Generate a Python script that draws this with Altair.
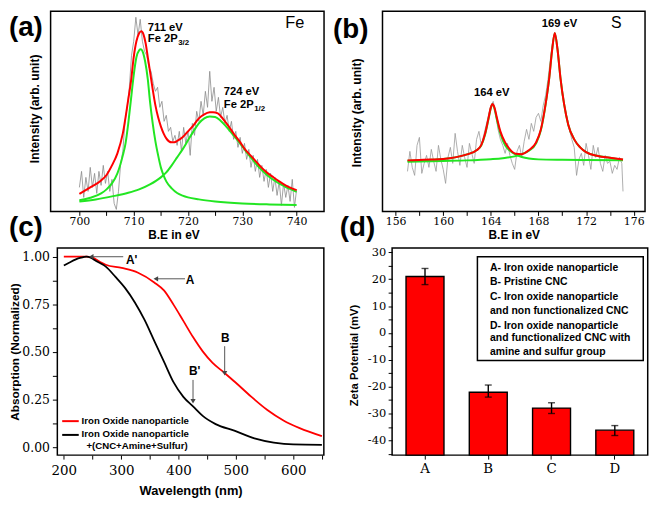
import altair as alt
import pandas as pd

# ---------------- (a) Fe 2p XPS ----------------
fe_raw_ev = [700.0, 700.4, 700.8, 701.2, 701.6, 702.0, 702.4, 702.8, 703.2, 703.6,
             704.0, 704.4, 704.8, 705.2, 705.6, 706.0, 706.4, 706.8, 707.2, 707.6,
             708.0, 708.4, 708.8, 709.2, 709.6, 710.0, 710.4, 710.8, 711.2, 711.6,
             712.0, 712.4, 712.8, 713.2, 713.6, 714.0, 714.4, 714.8, 715.2, 715.6,
             716.0, 716.4, 716.8, 717.2, 717.6, 718.0, 718.4, 718.8, 719.2, 719.6,
             720.0, 720.4, 720.8, 721.2, 721.6, 722.0, 722.4, 722.8, 723.2, 723.6,
             724.0, 724.4, 724.8, 725.2, 725.6, 726.0, 726.4, 726.8, 727.2, 727.6,
             728.0, 728.4, 728.8, 729.2, 729.6, 730.0, 730.4, 730.8, 731.2, 731.6,
             732.0, 732.4, 732.8, 733.2, 733.6, 734.0, 734.4, 734.8, 735.2, 735.6,
             736.0, 736.4, 736.8, 737.2, 737.6, 738.0, 738.4, 738.8, 739.2, 739.6,
             740.0]
fe_raw_int = [12, 20, 7, 17, 10, 22, 12, 19, 9, 20,
              13, 23, 14, 20, 10, 16, 4, 1, 10, 24,
              30, 45, 52, 62, 78, 85, 97, 88, 96, 85,
              80, 78, 72, 70, 64, 60, 62, 52, 55, 45,
              48, 40, 42, 35, 38, 33, 40, 30, 42, 34,
              40, 28, 44, 38, 50, 45, 55, 48, 60, 52,
              70, 55, 62, 50, 57, 47, 52, 44, 48, 40,
              45, 36, 40, 32, 37, 29, 34, 26, 31, 22,
              28, 20, 26, 17, 23, 15, 21, 12, 19, 10,
              17, 8, 15, 3, 14, 7, 13, 5, 16, 2,
              11]
fe_fit_ev = [700, 702, 704, 705, 706, 707, 708, 709, 709.5, 710,
             710.5, 711, 711.4, 711.8, 712.2, 712.6, 713, 713.5, 714, 714.5,
             715, 715.5, 716, 716.5, 717, 717.5, 718, 719, 720, 721,
             722, 723, 724, 724.6, 725.5, 726.5, 727.5, 728.5, 729.5, 730.5,
             731.5, 732.5, 733.5, 734.5, 735.5, 736.5, 737.5, 738.5, 740]
fe_fit_int = [8.8, 12.0, 15.5, 18.2, 23, 29, 39, 56, 65, 77,
              85, 89, 90, 88.5, 84, 77, 70, 61, 53, 47,
              42.5, 39, 36.5, 35, 34.5, 34.6, 35.2, 37, 40, 43,
              46.5, 48.5, 49.5, 49.6, 49, 46, 42.5, 38.5, 35, 31,
              28, 25, 22, 19.5, 17.5, 15.5, 13.8, 12.3, 10.6]
fe_g1_ev = [700, 702, 704, 705, 706, 707, 708, 708.5, 709, 709.5,
            710, 710.5, 711, 711.3, 711.7, 712.1, 712.6, 713, 713.5, 714,
            714.5, 715, 715.5, 716, 717, 718, 719, 720, 722, 725,
            730, 735, 740]
fe_g1_int = [5.6, 6.8, 9, 11, 14, 19, 28, 34, 44, 56,
             68, 77, 80.5, 81, 79.5, 75, 66, 55, 44, 35,
             28, 22, 18, 15, 11.5, 9.2, 7.9, 7.0, 6.0, 5,
             4, 3.5, 3.2]
fe_g2_ev = [700, 703, 706, 709, 711, 713, 715, 716, 717, 718,
            719, 720, 721, 722, 723, 724, 725, 726, 727, 728,
            729, 730, 731, 732, 733, 734, 735, 736, 737, 738,
            739, 740]
fe_g2_int = [5, 6, 7.5, 9.3, 11, 13.5, 17, 19.5, 23, 27,
             31, 35.5, 40, 44, 46.5, 47.4, 47.2, 45.3, 42.5, 39.3,
             36, 32.5, 28.8, 25.5, 22.3, 19.6, 17.2, 15.3, 13.6, 12.2,
             11, 9.8]

# ---------------- (b) S 2p XPS ----------------
s_raw_ev = [157.0, 157.2, 157.4, 157.6, 157.8, 158.0, 158.2, 158.4, 158.6, 158.8,
            159.0, 159.2, 159.4, 159.6, 159.8, 160.0, 160.2, 160.4, 160.6, 160.8,
            161.0, 161.2, 161.4, 161.6, 161.8, 162.0, 162.2, 162.4, 162.6, 162.8,
            163.0, 163.2, 163.4, 163.6, 163.8, 164.0, 164.2, 164.4, 164.6, 164.8,
            165.0, 165.2, 165.4, 165.6, 165.8, 166.0, 166.2, 166.4, 166.6, 166.8,
            167.0, 167.2, 167.4, 167.6, 167.8, 168.0, 168.2, 168.4, 168.6, 168.8,
            169.0, 169.2, 169.4, 169.6, 169.8, 170.0, 170.2, 170.4, 170.6, 170.8,
            171.0, 171.2, 171.4, 171.6, 171.8, 172.0, 172.2, 172.4, 172.6, 172.8,
            173.0, 173.2, 173.4, 173.6, 173.8, 174.0, 174.2, 174.4, 174.6, 174.8,
            175.0, 175.1]
s_raw_int = [20, 30, 22, 18, 33, 37, 19, 24, 28, 22,
             31, 25, 20, 33, 26, 21, 14, 27, 32, 24,
             39, 30, 23, 33, 27, 22, 34, 29, 24, 36,
             40, 33, 38, 43, 48, 53, 55, 49, 41, 36,
             33, 29, 34, 28, 24, 21, 30, 33, 27, 35,
             41, 36, 44, 40, 47, 49, 45, 53, 58, 66,
             76, 85, 89, 82, 70, 58, 52, 47, 41, 36,
             32, 18, 26, 29, 23, 34, 28, 21, 33, 27,
             32, 24, 20, 28, 24, 25, 19, 23, 21, 27,
             24, 10]
s_fit_ev = [157, 158, 159, 160, 161, 162, 162.8, 163.2, 163.5, 163.8,
            164.0, 164.13, 164.3, 164.5, 164.8, 165.2, 165.6, 166.1, 166.6, 167.2,
            167.8, 168.2, 168.6, 168.9, 169.15, 169.37, 169.6, 169.85, 170.15, 170.5,
            171, 171.5, 172, 173, 174, 175.1]
s_fit_int = [25.5, 25.7, 25.9, 26.2, 27, 28.5, 30.5, 33.2, 38.5, 46.5,
             52, 53.7, 52, 47, 40, 34.5, 31, 28.8, 28.6, 30.6,
             34.5, 40.9, 53.7, 66.5, 80.9, 89.2, 80.9, 66.5, 53.7, 43.3,
             36, 32, 29.6, 27.7, 26.8, 25.9]
s_g1_ev = [157, 159, 160, 161, 162, 162.8, 163.2, 163.5, 163.8, 164.0,
           164.13, 164.3, 164.5, 164.8, 165.2, 165.6, 166.1, 166.6, 167.2, 168,
           170, 172, 175.1]
s_g1_int = [25.3, 25.8, 26.2, 27, 28.5, 30.5, 33, 38, 46, 51.5,
            53.5, 51.5, 46, 39, 33, 30.3, 28.4, 27.2, 26.4, 26.0,
            25.8, 25.7, 25.6]
s_g2_ev = [157, 160, 162, 164, 165, 166, 166.6, 167.2, 167.8, 168.2,
           168.6, 168.9, 169.15, 169.37, 169.6, 169.85, 170.15, 170.5, 171, 171.5,
           172, 173, 174, 175.1]
s_g2_int = [24.8, 25.2, 25.5, 26.1, 26.6, 27.5, 28.6, 30.3, 34, 40.5,
            53.5, 66.5, 80.9, 89, 80.9, 66.5, 53.7, 43.3, 36, 32,
            29.6, 27.7, 26.8, 25.8]

# ---------------- (c) UV-Vis ----------------
uv_red_nm = [200, 220, 240, 248, 262, 273, 301, 329.5, 357.7, 374.6, 391.5,
             408.4, 425.3, 442.2, 459, 478.9, 498.5, 526.7, 554.9, 583, 611.2, 650]
uv_red_abs = [1.0, 1.0, 1.0, 0.998, 0.975, 0.958, 0.941, 0.916, 0.865, 0.823, 0.747,
              0.663, 0.578, 0.503, 0.444, 0.393, 0.342, 0.265, 0.195, 0.14, 0.1, 0.058]
uv_blk_nm = [200, 210, 220, 230, 239.4, 248, 256.3, 273.2, 290.1, 307, 323.9, 340.8,
             357.7, 374.6, 391.5, 408.4, 425.3, 442.2, 464.7, 498.5, 532.3, 566.1, 600, 650]
uv_blk_abs = [0.954, 0.97, 0.985, 0.995, 1.0, 0.993, 0.978, 0.948, 0.894, 0.835, 0.76, 0.668,
              0.558, 0.449, 0.34, 0.264, 0.214, 0.164, 0.121, 0.085, 0.046, 0.024, 0.014, 0.012]
arrow_label = ["A'", "A", "B", "B'"]
arrow_from_nm = [303.6, 411.3, 480.5, 425.3]
arrow_to_nm = [247.8, 360.5, 480.5, 425.3]
arrow_from_abs = [1.0, 0.884, 0.53, 0.353]
arrow_to_abs = [1.0, 0.884, 0.388, 0.241]
arrow_head = ["triangle-left", "triangle-left", "triangle-down", "triangle-down"]
arrow_text_nm = [318.3, 420.0, 481.7, 428.1]
arrow_text_abs = [0.983, 0.877, 0.574, 0.402]

# ---------------- (d) Zeta potential ----------------
zeta_cat = ["A", "B", "C", "D"]
zeta_val = [21.0, -22.1, -28.0, -36.2]
zeta_lo = [18.0, -23.9, -30.0, -38.2]
zeta_hi = [24.0, -19.4, -26.0, -34.5]
zeta_legend = ["A- Iron oxide nanoparticle", "B- Pristine CNC",
               "C- Iron oxide nanoparticle", "and non functionalized CNC",
               "D- Iron oxide nanoparticle", "and functionalized CNC with",
               "amine and sulfur group"]
zeta_legend_y = [20.4, 34.7, 49.3, 63.2, 78.4, 91.3, 104.9]

FT = "Liberation Sans"
FN = "DejaVu Serif"
RED = "#ff0000"
GREEN = "#22e622"
one = pd.DataFrame({"k": [0]})


def lbl(text, x, y, size, weight="bold", align="left", baseline="middle",
        color="black", font=FT):
    return alt.Chart(one).mark_text(
        text=text, font=font, fontSize=size, fontWeight=weight, align=align,
        baseline=baseline, color=color
    ).encode(x=alt.value(x), y=alt.value(y))


def enc(ch, xs, ys, ax, ay):
    return ch.encode(x=alt.X("x:Q", scale=xs, axis=ax),
                     y=alt.Y("y:Q", scale=ys, axis=ay))


def df(xs, ys):
    return pd.DataFrame({"x": xs, "y": ys})


# ================= panel (a) =================
WA, HA = 276, 202
xa = alt.Scale(domain=[694.7, 745.05], nice=False, zero=False)
ya = alt.Scale(domain=[0, 100], nice=False, zero=False)
axa_x = alt.Axis(values=[700, 705, 710, 715, 720, 725, 730, 735, 740],
                 labelExpr="datum.value % 10 == 0 ? datum.label : ''",
                 labelFont=FN, labelFontSize=11, tickSize=4, labelPadding=0.5,
                 title="B.E in eV", titleFont=FT, titleFontSize=12, titleFontWeight="bold",
                 titleX=124, titleY=18.0, titleBaseline="top", grid=False, domain=False)
axa_y = alt.Axis(title="Intensity (arb. unit)", ticks=False, labels=False, domain=False,
                 grid=False, titleFont=FT, titleFontSize=12.2, titleFontWeight="bold",
                 titleX=-16, titleY=98, titleBaseline="middle")

fe_sub = 11.3
pa = alt.layer(
    enc(alt.Chart(df(fe_raw_ev, fe_raw_int)).mark_line(color="#8a8a8a", strokeWidth=0.8), xa, ya, axa_x, axa_y),
    enc(alt.Chart(df(fe_g1_ev, fe_g1_int)).mark_line(color=GREEN, strokeWidth=2, interpolate="monotone"), xa, ya, axa_x, axa_y),
    enc(alt.Chart(df(fe_g2_ev, fe_g2_int)).mark_line(color=GREEN, strokeWidth=2, interpolate="monotone"), xa, ya, axa_x, axa_y),
    enc(alt.Chart(df(fe_fit_ev, fe_fit_int)).mark_line(color=RED, strokeWidth=2, interpolate="monotone"), xa, ya, axa_x, axa_y),
    enc(alt.Chart(pd.DataFrame({"x": [712.6, 712.6, 726.6, 726.6], "y": [91.8, 86.0, 59.8, 53.0],
                                "t": ["711 eV", "Fe 2P", "724 eV", "Fe 2P"]}))
        .mark_text(font=FT, fontSize=fe_sub, fontWeight="bold", align="left", baseline="middle"),
        xa, ya, axa_x, axa_y).encode(text="t:N"),
    enc(alt.Chart(pd.DataFrame({"x": [712.6, 726.6], "y": [86.0, 53.0], "t": ["3/2", "1/2"]}))
        .mark_text(font=FT, fontSize=8, fontWeight="bold", align="left", baseline="middle",
                   dx=2.668 * fe_sub + 0.5, dy=4),
        xa, ya, axa_x, axa_y).encode(text="t:N"),
    enc(alt.Chart(pd.DataFrame({"x": [737.9], "y": [94.2], "t": ["Fe"]}))
        .mark_text(font=FT, fontSize=16.5, align="left", baseline="middle"),
        xa, ya, axa_x, axa_y).encode(text="t:N"),
    lbl("(a)", -42.1, 16.5, 28),
    lbl("(c)", -42.1, 218.7, 28),
).properties(width=WA, height=HA)

# ================= panel (b) =================
WB, HB = 265, 202
xb = alt.Scale(domain=[154.9, 176.95], nice=False, zero=False)
yb = alt.Scale(domain=[0, 100], nice=False, zero=False)
axb_x = alt.Axis(values=[156, 158, 160, 162, 164, 166, 168, 170, 172, 174, 176],
                 labelExpr="datum.value % 4 == 0 ? datum.label : ''",
                 labelFont=FN, labelFontSize=11, tickSize=4, labelPadding=0.5,
                 title="B.E in eV", titleFont=FT, titleFontSize=12, titleFontWeight="bold",
                 titleY=18.0, titleBaseline="top", grid=False, domain=False)
axb_y = alt.Axis(title="Intensity (arb. unit)", ticks=False, labels=False, domain=False,
                 grid=False, titleFont=FT, titleFontSize=12.2, titleFontWeight="bold",
                 titleX=-26.7, titleY=102, titleBaseline="middle")

pb = alt.layer(
    enc(alt.Chart(df(s_raw_ev, s_raw_int)).mark_line(color="#9a9a9a", strokeWidth=0.8), xb, yb, axb_x, axb_y),
    enc(alt.Chart(df(s_g1_ev, s_g1_int)).mark_line(color=GREEN, strokeWidth=2, interpolate="monotone"), xb, yb, axb_x, axb_y),
    enc(alt.Chart(df(s_g2_ev, s_g2_int)).mark_line(color=GREEN, strokeWidth=2, interpolate="monotone"), xb, yb, axb_x, axb_y),
    enc(alt.Chart(df(s_fit_ev, s_fit_int)).mark_line(color=RED, strokeWidth=2, interpolate="monotone"), xb, yb, axb_x, axb_y),
    enc(alt.Chart(pd.DataFrame({"x": [168.28, 162.59], "y": [93.8, 59.0], "t": ["169 eV", "164 eV"]}))
        .mark_text(font=FT, fontSize=11.3, fontWeight="bold", align="left", baseline="middle"),
        xb, yb, axb_x, axb_y).encode(text="t:N"),
    enc(alt.Chart(pd.DataFrame({"x": [174.1], "y": [94.2], "t": ["S"]}))
        .mark_text(font=FT, fontSize=16, align="left", baseline="middle"),
        xb, yb, axb_x, axb_y).encode(text="t:N"),
    lbl("(b)", -49.9, 18.5, 28),
    lbl("(d)", -43.1, 218.7, 28),
).properties(width=WB, height=HB)

# ================= panel (c) =================
# the visible frame of (c) starts C_OFF px right of the column origin shared with (a)
C_OFF = 6.8
WC, HC = 269, 209
WCV = WC + C_OFF
xc = alt.Scale(domain=[188.7, 653.4], range=[C_OFF, WCV], nice=False, zero=False)
yc = alt.Scale(domain=[-0.042, 1.0455], nice=False, zero=False)
axc_x = alt.Axis(values=[200, 250, 300, 350, 400, 450, 500, 550, 600, 650],
                 labelExpr="datum.value % 100 == 0 ? datum.label : ''",
                 labelFont=FN, labelFontSize=13.5, tickSize=4, labelPadding=4.9,
                 title="Wavelength (nm)", titleFont=FT, titleFontSize=13, titleFontWeight="bold",
                 titleX=C_OFF + WC / 2, titleY=29.9, titleBaseline="top", grid=False, domain=False)
axc_y = alt.Axis(values=[0, 0.125, 0.25, 0.375, 0.5, 0.625, 0.75, 0.875, 1.0],
                 labelExpr="round(datum.value * 1000) % 250 == 0 ? format(datum.value, '.2f') : ''",
                 labelFont=FN, labelFontSize=12.5, tickSize=5, labelPadding=3, offset=-C_OFF,
                 title="Absorption (Normalized)", titleFont=FT, titleFontSize=11.9,
                 titleFontWeight="bold", titleX=-42.8, titleBaseline="middle",
                 grid=False, domain=False)

arrows = pd.DataFrame({"x": arrow_from_nm, "x2": arrow_to_nm, "y": arrow_from_abs, "y2": arrow_to_abs})
heads = pd.DataFrame({"x": arrow_to_nm, "y": arrow_to_abs, "shape": arrow_head})
alabels = pd.DataFrame({"x": arrow_text_nm, "y": arrow_text_abs, "t": arrow_label})

pc = alt.layer(
    alt.Chart(one).mark_rect(fillOpacity=0, stroke="black", strokeWidth=1.5).encode(
        x=alt.value(C_OFF), x2=alt.value(WCV), y=alt.value(0), y2=alt.value(HC)),
    enc(alt.Chart(df(uv_red_nm, uv_red_abs)).mark_line(color=RED, strokeWidth=1.8, interpolate="monotone"), xc, yc, axc_x, axc_y),
    enc(alt.Chart(df(uv_blk_nm, uv_blk_abs)).mark_line(color="black", strokeWidth=1.8, interpolate="monotone"), xc, yc, axc_x, axc_y),
    enc(alt.Chart(arrows).mark_rule(color="#555555", strokeWidth=1), xc, yc, axc_x, axc_y).encode(x2="x2:Q", y2="y2:Q"),
    enc(alt.Chart(heads).mark_point(filled=True, size=28, color="#444444", opacity=1), xc, yc, axc_x, axc_y)
        .encode(shape=alt.Shape("shape:N", scale=None)),
    enc(alt.Chart(alabels).mark_text(font=FT, fontSize=12, fontWeight="bold", align="center", baseline="middle"),
        xc, yc, axc_x, axc_y).encode(text="t:N"),
    alt.Chart(one).mark_rule(color=RED, strokeWidth=2).encode(
        x=alt.value(C_OFF + 4.9), x2=alt.value(C_OFF + 21.6), y=alt.value(174.7)),
    alt.Chart(one).mark_rule(color="black", strokeWidth=2).encode(
        x=alt.value(C_OFF + 4.9), x2=alt.value(C_OFF + 21.6), y=alt.value(188.6)),
    lbl("Iron Oxide nanoparticle", C_OFF + 24.5, 174.7, 9.7),
    lbl("Iron Oxide nanoparticle", C_OFF + 24.5, 187.6, 9.7),
    lbl("+(CNC+Amine+Sulfur)", C_OFF + 29.4, 200.2, 9.7),
).properties(width=WCV, height=HC, view=alt.ViewBackground(stroke="transparent"))

# ================= panel (d) =================
WD, HD = 258, 209
D_MIN = -45.5
xd = alt.Scale(domain=zeta_cat, paddingInner=0.4, paddingOuter=0.22)
yd = alt.Scale(domain=[D_MIN, 31.6], nice=False, zero=False)
axd_x = alt.Axis(labelFont=FN, labelFontSize=13.5, tickSize=4, labelPadding=2.6,
                 labelAngle=0, title=None, grid=False, domain=False)
axd_y = alt.Axis(values=[-45, -40, -35, -30, -25, -20, -15, -10, -5, 0, 5, 10, 15, 20, 25, 30],
                 labelExpr="datum.value % 10 == 0 ? toString(datum.value) : ''",
                 labelFont=FN, labelFontSize=11.5, tickSize=4, labelPadding=2.5,
                 title="Zeta Potential (mV)", titleFont=FT, titleFontSize=11.3,
                 titleFontWeight="bold", titleX=-37.6, titleY=108, titleBaseline="middle",
                 grid=False, domain=False)
zeta = pd.DataFrame({"cat": zeta_cat, "val": zeta_val, "lo": zeta_lo, "hi": zeta_hi})

legend_layers = [alt.Chart(one).mark_rect(fill="white", stroke="black", strokeWidth=1.5)
                 .encode(x=alt.value(86.1), x2=alt.value(253.5), y=alt.value(8.7), y2=alt.value(113.4))]
for line, yy in zip(zeta_legend, zeta_legend_y):
    legend_layers.append(lbl(line, 98.9, yy, 10.5))

pd_ = alt.layer(
    alt.Chart(zeta).mark_bar(color=RED, stroke="black", strokeWidth=1.4).encode(
        x=alt.X("cat:N", scale=xd, axis=axd_x, sort=zeta_cat),
        y=alt.Y("val:Q", scale=yd, axis=axd_y),
        y2=alt.datum(D_MIN)),
    alt.Chart(zeta).mark_rule(color="black", strokeWidth=1.4).encode(
        x=alt.X("cat:N", scale=xd, axis=axd_x, sort=zeta_cat),
        y=alt.Y("lo:Q", scale=yd, axis=axd_y), y2="hi:Q"),
    alt.Chart(zeta).mark_tick(color="black", thickness=1.4, size=7).encode(
        x=alt.X("cat:N", scale=xd, axis=axd_x, sort=zeta_cat),
        y=alt.Y("lo:Q", scale=yd, axis=axd_y)),
    alt.Chart(zeta).mark_tick(color="black", thickness=1.4, size=7).encode(
        x=alt.X("cat:N", scale=xd, axis=axd_x, sort=zeta_cat),
        y=alt.Y("hi:Q", scale=yd, axis=axd_y)),
    *legend_layers,
).properties(width=WD, height=HD)

row1 = alt.hconcat(pa, pb, spacing=7)
row2 = alt.hconcat(pc, pd_, spacing=20.7)
chart = alt.vconcat(row1, row2, spacing=2).properties(
    padding=0, background="white"
).configure_view(stroke="black", strokeWidth=1.5).configure_axis(
    grid=False, domain=False, tickColor="black", labelColor="black", titleColor="black"
)

chart.save("out.html", embed_options={"renderer": "svg", "actions": False})
